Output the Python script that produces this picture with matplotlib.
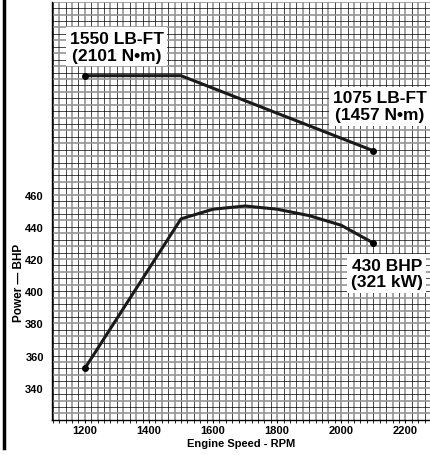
import numpy as np
import matplotlib.pyplot as plt
from matplotlib.lines import Line2D

plt.rcParams['font.family'] = ['Liberation Sans', 'DejaVu Sans']

# torque curve (lb-ft) and power curve (bhp) against engine speed
torque_rpm = [1200, 1500, 2100]
torque_lbft = [1550, 1550, 1075]

power_rpm = [1200, 1500, 1600, 1700, 1800, 1900, 2000, 2100]
power_bhp = [352, 445, 451, 453, 451, 447, 441, 430]

x_ticks = [1200, 1400, 1600, 1800, 2000, 2200]
y_ticks = [340, 360, 380, 400, 420, 440, 460]

fig = plt.figure(figsize=(4.31, 4.56), dpi=100)
ax = fig.add_axes([0.121, 0.077, 0.879, 0.917])
ax.set_xlim(1098, 2280)
ax.set_ylim(320, 580)

# graph paper grid
for i, gx in enumerate(np.arange(1100, 2281, 20)):
    if i % 2 == 0:
        ax.axvline(gx, color='black', lw=0.5, zorder=1)
    else:
        ax.axvline(gx, color='#959595', lw=1.2, zorder=1)
for i, gy in enumerate(np.arange(320, 581, 4)):
    if i % 2 == 0:
        ax.axhline(gy, color='black', lw=0.5, zorder=1)
    else:
        ax.axhline(gy, color='#959595', lw=1.2, zorder=1)

ax.plot(power_rpm, power_bhp, color='#1a1a1a', lw=2.2, zorder=3)
ax.plot([power_rpm[0], power_rpm[-1]], [power_bhp[0], power_bhp[-1]],
        'o', color='black', ms=4, zorder=4)

# torque shares the x axis, its own scale is not shown
ax2 = ax.twinx()
ax2.set_ylim(-628, 2018)
ax2.plot(torque_rpm, torque_lbft, color='#1a1a1a', lw=2.2, zorder=3)
ax2.plot([torque_rpm[0], torque_rpm[-1]], [torque_lbft[0], torque_lbft[-1]],
         'o', color='black', ms=4, zorder=4)
ax2.set_yticks([])
for s in ax2.spines.values():
    s.set_visible(False)

ax.set_xticks(x_ticks)
ax.set_xticklabels([str(t) for t in x_ticks], fontsize=8, fontweight='bold')
ax.set_xticks(np.arange(1100, 2281, 20), minor=True)
ax.set_yticks(y_ticks)
ax.set_yticklabels([str(t) for t in y_ticks], fontsize=8, fontweight='bold')
ax.tick_params(axis='x', which='major', length=2, pad=2)
ax.tick_params(axis='x', which='minor', length=2)
ax.tick_params(axis='y', length=0, pad=6)
for side in ['top', 'right']:
    ax.spines[side].set_visible(False)
ax.spines['left'].set_linewidth(1.0)
ax.spines['bottom'].set_linewidth(1.0)

ax.set_xlabel('Engine Speed - RPM', fontsize=8, fontweight='bold', labelpad=2)
ax.set_ylabel('Power \u2014 BHP', fontsize=8.5, fontweight='bold')
ax.yaxis.set_label_coords(-0.072, 0.33)

box = dict(facecolor='white', edgecolor='none', pad=2.5)
ax.text(1300, 552, '1550 LB-FT\n(2101 N\u2022m)', fontsize=12.5, fontweight='bold',
        ha='center', va='center', linespacing=1.15, bbox=box, zorder=5)
ax.text(2120, 515, '1075 LB-FT\n(1457 N\u2022m)', fontsize=12.5, fontweight='bold',
        ha='center', va='center', linespacing=1.15, bbox=box, zorder=5)
ax.text(2142, 411, '430 BHP\n(321 kW)', fontsize=12.5, fontweight='bold',
        ha='center', va='center', linespacing=1.15, bbox=box, zorder=5)

# page rule on the left
fig.add_artist(Line2D([0.009, 0.009], [0.016, 1.0], color='black', lw=2.5,
                      transform=fig.transFigure))

fig.savefig('out.png', dpi=100)
